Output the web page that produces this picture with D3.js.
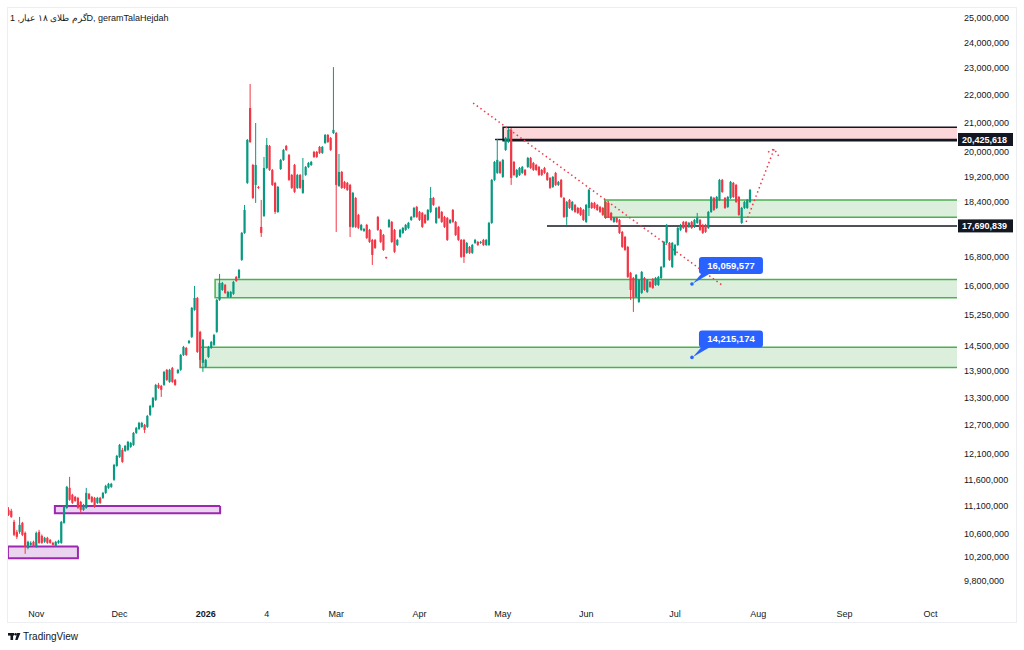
<!DOCTYPE html>
<html>
<head>
<meta charset="utf-8">
<script src="https://cdn.jsdelivr.net/npm/d3@7/dist/d3.min.js"></script>
<style>
  body { margin: 0; background: #fff; }
  svg { display: block; font-family: "Liberation Sans", Arial, sans-serif; }
</style>
</head>
<body>
<svg id="chart" width="1024" height="650"></svg>
<script>
// daily candles, [open, high, low, close] in thousand rials
var candles = [
  [11031,11080,10920,10940],[11013,11050,10885,10903],[10813,10850,10560,10582],[10634,10670,10510,10547],
  [10634,10903,10600,10759],[10795,10813,10560,10582],[10617,10640,10253,10373],[10355,10480,10330,10460],
  [10407,10470,10390,10442],[10460,10480,10370,10390],[10373,10640,10355,10617],[10634,10670,10425,10442],
  [10564,10590,10425,10442],[10460,10547,10442,10529],[10529,10547,10425,10442],[10494,10510,10425,10442],
  [10442,10460,10390,10407],[10390,10477,10373,10460],[10442,10494,10425,10477],[10442,10830,10425,10813],
  [10795,11105,10780,11086],[11067,11480,11050,11461],[11442,11653,11197,11216],[11310,11330,11140,11160],
  [11272,11290,11179,11197],[11253,11272,11050,11067],[11179,11197,10976,11031],[11031,11140,11013,11123],
  [11067,11442,11050,11347],[11328,11347,11216,11234],[11272,11290,11160,11179],[11253,11272,11067,11086],
  [11160,11272,11140,11253],[11253,11272,11140,11160],[11253,11366,11234,11347],[11347,11500,11328,11480],
  [11442,11538,11423,11519],[11461,11538,11442,11519],[11596,11908,11577,11888],[11868,12087,11850,12067],
  [12047,12310,12027,12290],[12188,12229,11928,11947],[12168,12290,12148,12270],[12188,12372,12168,12352],
  [12249,12352,12229,12331],[12290,12558,12270,12537],[12537,12663,12516,12642],[12621,12770,12600,12748],
  [12663,12770,12642,12748],[12705,12727,12537,12600],[12663,12918,12642,12896],[12918,13136,12896,13114],
  [13092,13311,13070,13289],[13245,13603,13222,13580],[13580,13625,13490,13512],[13557,13580,13311,13468],
  [13580,13900,13558,13877],[13923,13946,13670,13693],[13648,13946,13625,13923],[13969,13992,13625,13648],
  [13693,13716,13558,13580],[13853,13946,13830,13923],[13923,14298,13900,14274],[14274,14490,14250,14465],
  [14441,14465,14250,14274],[14562,14635,14538,14611],[14708,15460,14683,15435],[15384,16010,15360,15693],
  [15693,15720,14322,14346],[14832,14858,13969,14157],[14087,14660,13877,14635],[13992,14180,13969,14157],
  [14227,14490,14203,14465],[14441,14611,14417,14587],[14514,14782,14490,14757],[14832,15667,14807,15642],
  [15642,16332,15616,16090],[15904,16117,15878,16090],[16037,16063,15799,15825],[15720,15878,15693,15851],
  [15720,15878,15693,15851],[15799,16144,15773,16117],[16251,16278,16117,16144],[16224,16469,16197,16442],
  [16718,17515,16690,17486],[17486,18319,17457,18167],[19002,20443,18970,20409],[21525,22400,20308,20342],
  [19579,19612,18502,18533],[18939,20994,18380,19579],[18876,18907,18813,18844],[17661,18472,17369,17486],
  [17987,19841,17957,19481],[19481,20477,19449,20241],[20207,20241,19385,19417],[19417,19449,18907,18939],
  [19002,19034,18047,18107],[18107,18907,18077,18876],[19449,19775,19417,19743],[19743,20108,19710,20074],
  [20207,20241,20041,20074],[19908,19941,19065,19097],[19256,19288,18813,18844],[19579,19612,18689,18720],
  [18844,19288,18813,19256],[19256,19288,18813,18844],[18689,19808,18658,19097],[19256,19546,19224,19514],
  [19514,19677,19481,19644],[19579,19710,19546,19677],[20008,20041,19808,19841],[20008,20041,19808,19841],
  [20174,20207,19941,19975],[19975,20207,19941,20174],[20308,20614,20275,20580],[20580,20614,20308,20342],
  [20477,20511,20041,20074],[20648,23040,20614,20752],[20648,20683,17515,18939],[18907,19941,18876,19353],
  [19353,19385,18813,18844],[19034,19065,18813,18844],[19002,19034,18751,18782],
  [18939,18970,17369,17661],[17661,18720,17631,18689],[18533,18564,17631,17661],[18017,18047,17602,17631],
  [17573,17750,17544,17720],[17544,17631,17515,17602],[17720,17750,17312,17340],[17573,17602,17197,17225],
  [17283,17312,16579,16858],[17283,17312,17026,17054],[17957,17987,17544,17573],[17573,17602,17197,17225],
  [17427,17457,16970,16998],[16802,16802,16745,16773],[17661,17898,17631,17868],[17809,17838,17197,17225],
  [17573,17602,16914,16942],[17139,17312,17111,17283],[17369,17602,17340,17573],[17486,17661,17457,17631],
  [17573,17750,17544,17720],[17631,17809,17602,17779],[17868,17987,17838,17957],[17957,18258,17927,18227],
  [18258,18289,17927,17957],[18107,18137,17838,17868],[18077,18107,17631,17661],[18017,18047,17750,17779],
  [17868,18197,17838,18167],[18107,18876,18077,18533],[18533,18564,18289,18319],[17779,18258,17750,18227],
  [18258,18289,17898,17927],[18107,18137,17779,17809],[17957,17987,17631,17661],[17927,17957,17254,17283],
  [17779,17898,17750,17868],[18167,18197,17779,17809],[17809,17838,17398,17427],
  [17661,17690,17254,17283],[17283,17312,16773,16802],[17283,17312,16634,16802],[16914,17225,16886,17197],
  [17082,17111,16886,16914],[16914,17168,16886,17139],[17197,17312,17168,17283],[17225,17254,17111,17139],
  [17197,17254,17168,17225],[17283,17312,17111,17139],[17139,17312,17111,17283],
  [17139,17809,17111,17779],[17779,19129,17750,19097],[19097,19710,19065,19677],[19321,20443,19288,19743],
  [19677,19710,19288,19321],[19192,19775,19160,19743],[20074,20511,20041,20477],[20342,20820,20308,20752],
  [20752,20820,18939,19160],[19677,19710,19224,19256],[19192,19449,19160,19417],[19256,19514,19224,19481],
  [19321,19546,19288,19514],[19417,19449,19224,19256],[19514,19841,19481,19808],
  [19808,19841,19449,19481],[19644,19677,19385,19417],[19579,19612,19385,19417],[19514,19546,19224,19256],
  [19417,19449,19224,19256],[19481,19514,19288,19321],[19321,19353,19065,19097],[19160,19192,18813,18844],
  [18876,19224,18844,19192],[19321,19353,18907,18939],[18939,19065,18907,19034],[19097,19129,18533,18564],
  [18533,18564,17927,17957],[17957,18441,17720,18411],[18472,18502,18197,18227],[18167,18441,18137,18411],
  [18319,18350,18077,18107],[18227,18258,18047,18077],[18227,18258,17987,18017],[18167,18197,17838,17868],
  [17809,18350,17779,18319],[18227,18813,17987,18782],[18380,18411,18197,18227],[18380,18411,18197,18227],
  [18319,18350,18137,18167],[18258,18289,18077,18107],[18227,18258,17987,18017],[18411,18441,17898,17927],
  [18380,18411,17927,17957],[18077,18107,17838,17868],[17809,17957,17779,17927],[17927,17957,17779,17809],
  [17868,17898,17457,17486],[17515,17544,17054,17082],[17369,17398,16970,16998],[17082,17111,16224,16251],
  [16360,16387,15642,15904],[16224,16251,15333,15720],[15720,16332,15693,16305],[15590,16197,15564,16170],
  [15825,16414,15799,16387],[16224,16251,15878,15904],[15851,16197,15825,16170],[16117,16144,15957,15984],
  [16197,16224,15930,15957],[16037,16251,16010,16224],[16037,16278,16010,16251],[16224,16551,16196,16523],
  [16523,17254,16496,17225],[17197,17750,17168,17720],[17197,17225,16690,16718],[16523,17225,16496,17197],
  [16858,17168,16830,17139],[17139,17661,17111,17631],[17573,17750,17544,17720],[17809,17838,17602,17631],
  [17809,17838,17486,17515],[17661,17809,17631,17779],[17809,17838,17602,17631],[17661,17898,17631,17868],
  [17779,18077,17750,17927],[17868,17898,17544,17573],[17720,17750,17457,17486],[17720,17750,17486,17515],
  [17631,18137,17602,18107],[18107,18595,18077,18564],
  [18533,18564,18137,18167],[18227,18595,18197,18564],[18472,19129,18441,19097],[19097,19129,18689,18720],
  [18533,18564,18197,18227],[18258,18595,18227,18564],[18533,19065,18502,19034],
  [19002,19034,18533,18564],[18939,18970,18380,18411],[18564,18595,17987,18017],[17779,18258,17750,18227],
  [18227,18441,18197,18411],[18227,18502,18197,18472],[18411,18813,18380,18782]
];

// time scale labels, at bar index
var timeTicks = [
  [10, "Nov"], [40, "Dec"], [71, "2026"], [93, "4"], [118, "Mar"], [148, "Apr"],
  [178, "May"], [208, "Jun"], [240, "Jul"], [270, "Aug"], [301, "Sep"], [332, "Oct"]
];
var boldTicks = ["2026"];

// price scale labels (thousand rials)
var priceTicks = [25000, 24000, 23000, 22000, 21000, 20000, 19200, 18400, 16800, 16000,
  15250, 14500, 13900, 13300, 12700, 12100, 11600, 11100, 10600, 10200, 9800];

// horizontal price levels shown on the price scale
var levels = [
  { from: 175.2, price: 20425.618 },
  { from: 193.9, price: 17690.839 }
];

// zones: start bar, end bar (null = extend right), top and bottom price
var supplyZones = [
  { from: 178.1, to: null, top: 20850, bottom: 20380 }
];
var demandZones = [
  { from: 214.7, to: null, top: 18470, bottom: 17950 },
  { from: 74.4, to: null, top: 16180, bottom: 15700 },
  { from: 69, to: null, top: 14460, bottom: 13980 }
];
var earlyZones = [
  { from: 16.7, to: 76.2, top: 11100, bottom: 10970 },
  { from: -0.2, to: 25, top: 10380, bottom: 10180 }
];

// dotted trend lines [[bar, price], ...]
var trendLines = [
  [[167.3, 21703], [256.9, 16033]],
  [[265.6, 17805], [275.7, 20105]],
  [[273.5, 20003], [275.7, 20105], [277.8, 19808]]
];

// price callouts
var callouts = [
  { bar: 246.1, price: 16059.577 },
  { bar: 246.1, price: 14215.174 }
];

var title = "گرم طلای ۱۸ عیار, 1D, geramTalaHejdah";

var UP = "#089981", DOWN = "#f23645", TEXT = "#131722";
var plot = { left: 8, top: 8, right: 957, bottom: 602 };
var fmt = d3.format(",.0f");

var svg = d3.select("#chart");

svg.append("rect")
  .attr("x", 7.5).attr("y", 7.5)
  .attr("width", 1009).attr("height", 615)
  .attr("fill", "none").attr("stroke", "#eceef2");

svg.append("clipPath").attr("id", "plotclip")
  .append("rect")
  .attr("x", plot.left).attr("y", plot.top)
  .attr("width", plot.right - plot.left).attr("height", plot.bottom - plot.top);

var x = d3.scaleLinear().domain([0, candles.length - 1]).range([8.5, 750]);
var y = d3.scaleLog().domain([9800, 25000]).range([581, 18]);

var g = svg.append("g").attr("clip-path", "url(#plotclip)");

function zoneX1(z) {
  return z.to == null ? plot.right : x(z.to);
}

// zones
function drawZones(list, fill, stroke, width) {
  var zg = g.append("g");
  zg.selectAll("rect").data(list).enter().append("rect")
    .attr("x", function(d) { return x(d.from); })
    .attr("y", function(d) { return y(d.top); })
    .attr("width", function(d) { return zoneX1(d) - x(d.from); })
    .attr("height", function(d) { return y(d.bottom) - y(d.top); })
    .attr("fill", fill);
  zg.selectAll("path").data(list).enter().append("path")
    .attr("fill", "none").attr("stroke", stroke).attr("stroke-width", width)
    .attr("d", function(d) {
      var x0 = x(d.from), x1 = zoneX1(d), y0 = y(d.top), y1 = y(d.bottom);
      var p = "M" + x1 + "," + y0 + "H" + x0 + "V" + y1 + "H" + x1;
      if (d.to != null) p += "V" + y0;
      return p;
    });
}
drawZones(demandZones, "rgba(76,175,80,0.2)", "#4caf50", 1.5);
drawZones(supplyZones, "rgba(242,54,69,0.2)", "#131722", 1.5);
drawZones(earlyZones, "rgba(156,39,176,0.2)", "#9c27b0", 2);

// levels
g.selectAll("line.level").data(levels).enter().append("line")
  .attr("class", "level")
  .attr("x1", function(d) { return x(d.from); })
  .attr("x2", plot.right)
  .attr("y1", function(d) { return y(d.price); })
  .attr("y2", function(d) { return y(d.price); })
  .attr("stroke", TEXT).attr("stroke-width", 1.5);

// candles
var cg = g.append("g");
cg.selectAll("line").data(candles).enter().append("line")
  .attr("x1", function(d, i) { return x(i); })
  .attr("x2", function(d, i) { return x(i); })
  .attr("y1", function(d) { return y(d[1]); })
  .attr("y2", function(d) { return y(d[2]); })
  .attr("stroke", function(d) { return d[3] >= d[0] ? UP : DOWN; })
  .attr("stroke-width", 1);
cg.selectAll("rect").data(candles).enter().append("rect")
  .attr("x", function(d, i) { return x(i) - 1.1; })
  .attr("width", 2.2)
  .attr("y", function(d) { return y(Math.max(d[0], d[3])); })
  .attr("height", function(d) {
    return Math.max(1, Math.abs(y(d[0]) - y(d[3])));
  })
  .attr("fill", function(d) { return d[3] >= d[0] ? UP : DOWN; });

// dotted trend lines
var line = d3.line()
  .x(function(d) { return x(d[0]); })
  .y(function(d) { return y(d[1]); });
g.selectAll("path.trend").data(trendLines).enter().append("path")
  .attr("class", "trend")
  .attr("d", line)
  .attr("fill", "none")
  .attr("stroke", DOWN).attr("stroke-width", 1.5)
  .attr("stroke-dasharray", "1.5 3");

// callouts
var co = g.selectAll("g.callout").data(callouts).enter().append("g").attr("class", "callout");
co.append("path")
  .attr("fill", "#2962ff")
  .attr("d", function(d) {
    var px = x(d.bar), py = y(d.price);
    return "M" + (px + 10) + "," + (py - 11) + "L" + (px + 19) + "," + (py - 11) +
      "L" + (px + 1) + "," + (py - 0.5) + "Z";
  });
co.append("circle")
  .attr("cx", function(d) { return x(d.bar); })
  .attr("cy", function(d) { return y(d.price); })
  .attr("r", 1.8).attr("fill", "#2962ff");
co.append("rect")
  .attr("x", function(d) { return x(d.bar) + 7; })
  .attr("y", function(d) { return y(d.price) - 27; })
  .attr("width", 64).attr("height", 17).attr("rx", 3)
  .attr("fill", "#2962ff");
co.append("text")
  .attr("x", function(d) { return x(d.bar) + 39; })
  .attr("y", function(d) { return y(d.price) - 15; })
  .attr("text-anchor", "middle")
  .attr("fill", "#fff").attr("font-size", 9.5).attr("font-weight", "bold")
  .text(function(d) { return fmt(d.price * 1000); });

// price scale
svg.append("g").selectAll("text").data(priceTicks).enter().append("text")
  .attr("x", 964)
  .attr("y", function(d) { return y(d); })
  .attr("dy", "0.35em")
  .attr("fill", TEXT).attr("font-size", 9)
  .text(function(d) { return fmt(d * 1000); });

var lv = svg.append("g").selectAll("g").data(levels).enter().append("g");
lv.append("rect")
  .attr("x", 958).attr("width", 55)
  .attr("y", function(d) { return y(d.price) - 6.5; })
  .attr("height", 13)
  .attr("fill", TEXT);
lv.append("text")
  .attr("x", 962)
  .attr("y", function(d) { return y(d.price); })
  .attr("dy", "0.35em")
  .attr("fill", "#fff").attr("font-size", 9).attr("font-weight", "bold")
  .text(function(d) { return fmt(d.price * 1000); });

// time scale
svg.append("g").selectAll("text").data(timeTicks).enter().append("text")
  .attr("x", function(d) { return x(d[0]); })
  .attr("y", 617)
  .attr("text-anchor", "middle")
  .attr("fill", TEXT).attr("font-size", 9)
  .attr("font-weight", function(d) { return boldTicks.indexOf(d[1]) >= 0 ? "bold" : "normal"; })
  .text(function(d) { return d[1]; });

// legend title
svg.append("text")
  .attr("x", 10).attr("y", 21)
  .attr("fill", TEXT).attr("font-size", 9)
  .text(title);

// TradingView mark
var logo = svg.append("g").attr("fill", TEXT);
logo.append("rect").attr("x", 8).attr("y", 633).attr("width", 6).attr("height", 2.6);
logo.append("rect").attr("x", 10.5).attr("y", 633).attr("width", 2.6).attr("height", 7);
logo.append("circle").attr("cx", 15.6).attr("cy", 634.3).attr("r", 1.3);
logo.append("path").attr("d", "M17.2,633H20.4L17.6,640H15.2Z");
logo.append("text")
  .attr("x", 23).attr("y", 640)
  .attr("font-size", 10)
  .text("TradingView");
</script>
</body>
</html>
